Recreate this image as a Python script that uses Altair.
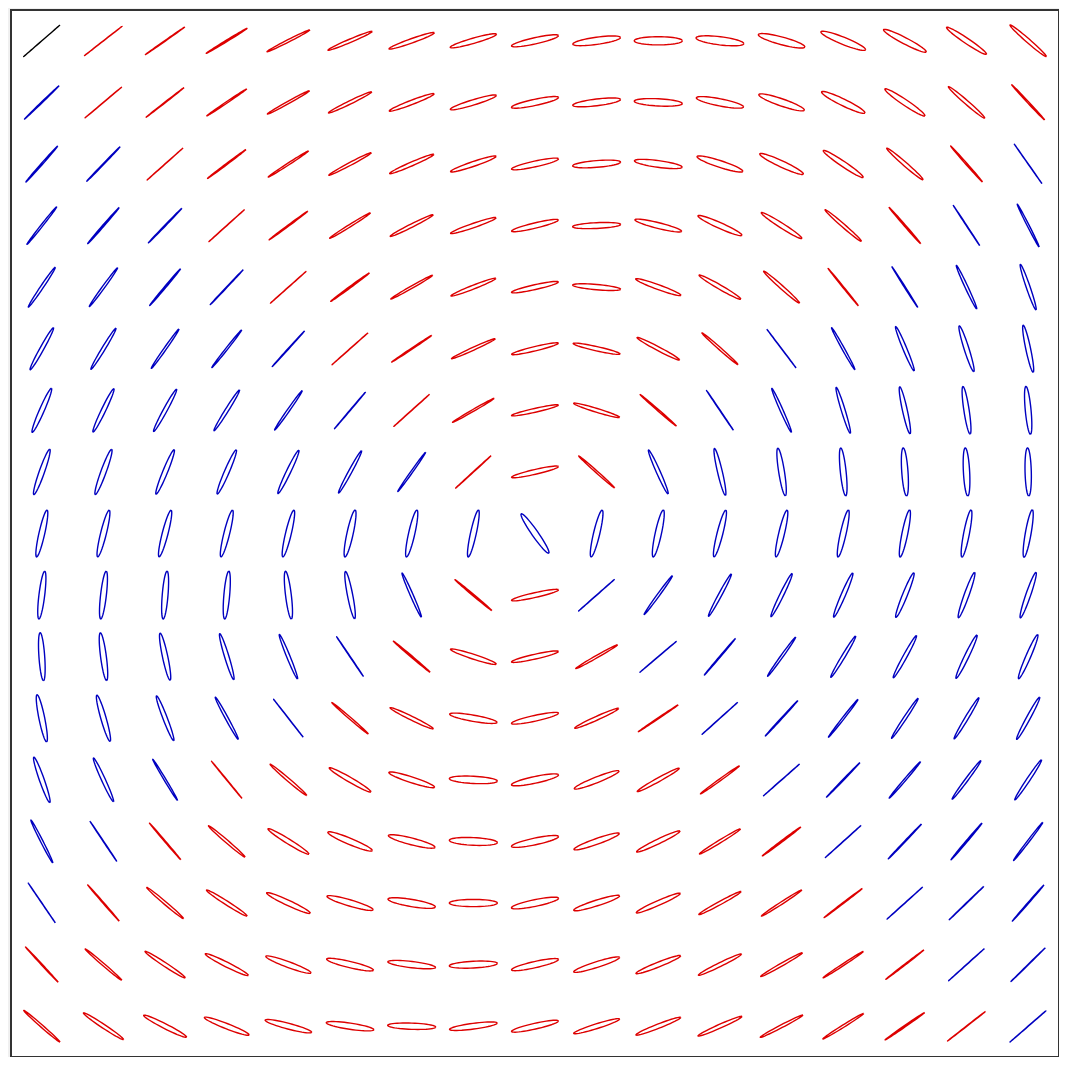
import math
import altair as alt
import pandas as pd

alt.data_transformers.disable_max_rows()

# Orientation of the major axis (degrees, counter-clockwise from horizontal), rows top -> bottom
ANGLE = [
    [41, 38, 35, 31.5, 27, 23, 19.6, 16, 12.6, 8, 0, -7, -15, -22, -27.6, -34, -41],
    [44, 40, 38, 34, 29, 26, 21, 17, 12, 7, -3, -11, -19, -26, -34, -41, -47],
    [48.6, 46, 41.7, 37, 33, 28, 23.5, 18.7, 12.4, 4.6, -7.7, -18, -25, -34, -41, -48.6, -55],
    [51.7, 49, 46, 42, 36.6, 32, 26.7, 19, 13.5, 2.7, -14, -24, -32.5, -41, -49, -56.7, -63],
    [56, 54, 50, 46.7, 41.7, 36.4, 29.7, 21.4, 12.6, -5, -20, -30, -41.7, -51, -57.6, -65, -71],
    [61, 58.7, 55, 51.7, 47.8, 41.6, 33.7, 24.5, 13.5, -12.6, -27.8, -41.4, -53, -61, -67.4, -72.4, -78],
    [66.4, 64.3, 61.5, 58, 55, 49.8, 42, 30, 12.7, -17, -41, -56, -66, -73, -77.6, -81.4, -84.6],
    [70.6, 70, 67.8, 66.7, 64.3, 61.5, 54.7, 42.5, 13, -41.7, -66, -76.8, -81, -84, -86, -87, -88.5],
    [77.3, 76, 75.5, 76, 76.6, 77.7, 77.3, 77.6, -55, 76.6, 77.7, 75.8, 76.6, 77.4, 78.5, 79, 80],
    [83, 83.4, 85.3, 85, -83, -79, -66.4, -40, 12.7, 41.4, 54, 61.7, 64, 66.7, 68, 70.3, 71],
    [-86, -82.5, -78, -73, -67.8, -56, -40.3, -18, 12.7, 29.7, 40.3, 49.7, 54.4, 59, 61.3, 64.2, 66.6],
    [-78.5, -74, -69, -61.5, -52, -40.8, -26, -10, 12.4, 24.3, 34, 42, 47.5, 52, 56.5, 59, 61.5],
    [-70.6, -65.4, -59, -50.7, -40.5, -30, -18, -3, 12, 21.7, 29, 35.8, 41.4, 46, 49.4, 53.4, 56.3],
    [-63, -56.3, -49.5, -40.6, -31.8, -22.6, -14.3, -2.7, 12, 19.5, 25.7, 31.5, 37, 42, 46.4, 49.8, 52.6],
    [-55.8, -49, -40.3, -32.6, -25, -16.4, -9.5, 0, 11.6, 17.6, 23.8, 28.6, 33, 37.3, 42, 44, 48.9],
    [-47.2, -40.6, -33.4, -26.7, -20.2, -13.4, -6.8, 3, 12.7, 17.6, 21.7, 26.2, 29.7, 33.3, 37.7, 42, 44.5],
    [-41.2, -33.6, -27, -21.4, -14.7, -8.5, -2, 7.6, 12.7, 17.5, 21.4, 24, 27.6, 32, 34.7, 38, 41],
]

# Minor / major axis ratio
RATIO = [
    [0, 0.005, 0.015, 0.03, 0.05, 0.07, 0.09, 0.11, 0.13, 0.15, 0.17, 0.17, 0.16, 0.15, 0.13, 0.11, 0.08],
    [0.02, 0.005, 0.015, 0.03, 0.05, 0.07, 0.09, 0.11, 0.13, 0.14, 0.15, 0.15, 0.15, 0.14, 0.12, 0.08, 0.03],
    [0.03, 0.02, 0.005, 0.025, 0.04, 0.06, 0.08, 0.10, 0.12, 0.14, 0.14, 0.14, 0.13, 0.11, 0.08, 0.03, 0.005],
    [0.04, 0.03, 0.02, 0.005, 0.025, 0.05, 0.07, 0.09, 0.11, 0.12, 0.12, 0.12, 0.10, 0.07, 0.03, 0.01, 0.04],
    [0.06, 0.05, 0.03, 0.015, 0.005, 0.03, 0.05, 0.08, 0.10, 0.11, 0.10, 0.09, 0.07, 0.02, 0.02, 0.06, 0.08],
    [0.08, 0.07, 0.05, 0.04, 0.015, 0.005, 0.025, 0.06, 0.09, 0.09, 0.08, 0.05, 0.005, 0.05, 0.08, 0.10, 0.10],
    [0.10, 0.09, 0.08, 0.07, 0.05, 0.01, 0.005, 0.04, 0.08, 0.08, 0.03, 0.01, 0.06, 0.08, 0.10, 0.11, 0.12],
    [0.11, 0.11, 0.10, 0.10, 0.09, 0.07, 0.04, 0.01, 0.10, 0.04, 0.08, 0.10, 0.12, 0.12, 0.13, 0.13, 0.13],
    [0.12, 0.12, 0.12, 0.12, 0.12, 0.13, 0.13, 0.12, 0.13, 0.13, 0.13, 0.12, 0.12, 0.12, 0.12, 0.12, 0.12],
    [0.12, 0.12, 0.12, 0.12, 0.12, 0.11, 0.06, 0.03, 0.10, 0.005, 0.05, 0.07, 0.08, 0.09, 0.10, 0.10, 0.10],
    [0.12, 0.12, 0.11, 0.09, 0.07, 0.01, 0.03, 0.10, 0.10, 0.05, 0.005, 0.02, 0.05, 0.07, 0.08, 0.09, 0.10],
    [0.12, 0.11, 0.09, 0.06, 0.005, 0.04, 0.08, 0.13, 0.12, 0.08, 0.02, 0.005, 0.02, 0.04, 0.06, 0.07, 0.08],
    [0.10, 0.08, 0.04, 0.01, 0.06, 0.10, 0.12, 0.15, 0.14, 0.12, 0.08, 0.04, 0.005, 0.02, 0.04, 0.06, 0.07],
    [0.05, 0.01, 0.02, 0.06, 0.10, 0.13, 0.14, 0.16, 0.14, 0.12, 0.10, 0.06, 0.03, 0.005, 0.02, 0.03, 0.04],
    [0.005, 0.02, 0.06, 0.08, 0.11, 0.13, 0.15, 0.15, 0.14, 0.12, 0.10, 0.07, 0.05, 0.02, 0.005, 0.01, 0.02],
    [0.02, 0.05, 0.08, 0.10, 0.12, 0.13, 0.13, 0.14, 0.13, 0.12, 0.10, 0.08, 0.06, 0.04, 0.02, 0.005, 0.01],
    [0.05, 0.08, 0.10, 0.11, 0.12, 0.13, 0.13, 0.12, 0.12, 0.10, 0.09, 0.08, 0.06, 0.05, 0.03, 0.01, 0.005],
]

# Handedness: K = linear, R = red, B = blue
HAND = [
    "KRRRRRRRRRRRRRRRR",
    "BRRRRRRRRRRRRRRRR",
    "BBRRRRRRRRRRRRRRB",
    "BBBRRRRRRRRRRRRBB",
    "BBBBRRRRRRRRRRBBB",
    "BBBBBRRRRRRRBBBBB",
    "BBBBBBRRRRRBBBBBB",
    "BBBBBBBRRRBBBBBBB",
    "BBBBBBBBBBBBBBBBB",
    "BBBBBBBRRBBBBBBBB",
    "BBBBBBRRRRBBBBBBB",
    "BBBBBRRRRRRBBBBBB",
    "BBBRRRRRRRRRBBBBB",
    "BBRRRRRRRRRRRBBBB",
    "BRRRRRRRRRRRRRBBB",
    "RRRRRRRRRRRRRRRBB",
    "RRRRRRRRRRRRRRRRB",
]

N = len(HAND)
SEMI = 0.39
NSEG = 48

recs = []
for r in range(N):
    for c in range(N):
        th = math.radians(ANGLE[r][c])
        a = SEMI
        b = SEMI * RATIO[r][c]
        cx, cy = c, (N - 1) - r
        for k in range(NSEG + 1):
            t = 2 * math.pi * k / NSEG
            ex, ey = a * math.cos(t), b * math.sin(t)
            recs.append({
                "id": r * N + c,
                "k": k,
                "x": round(cx + ex * math.cos(th) - ey * math.sin(th), 4),
                "y": round(cy + ex * math.sin(th) + ey * math.cos(th), 4),
                "hand": HAND[r][c],
            })
df = pd.DataFrame(recs)

chart = alt.Chart(df).mark_line(strokeWidth=1.4, strokeJoin="round").encode(
    x=alt.X("x:Q", scale=alt.Scale(domain=[-0.5, N - 0.5], nice=False, zero=False), axis=None),
    y=alt.Y("y:Q", scale=alt.Scale(domain=[-0.5, N - 0.5], nice=False, zero=False), axis=None),
    detail="id:N",
    order="k:Q",
    color=alt.Color("hand:N", scale=alt.Scale(domain=["K", "R", "B"], range=["#000000", "#dd0000", "#0000c0"]), legend=None),
).properties(
    width=1048, height=1047, background="#f0f0f0",
    padding={"left": 3, "top": 2, "right": 0, "bottom": 0},
).configure_view(fill="white", stroke="#333333", strokeWidth=2)

chart.save("out.html", embed_options={"renderer": "svg", "actions": False})
